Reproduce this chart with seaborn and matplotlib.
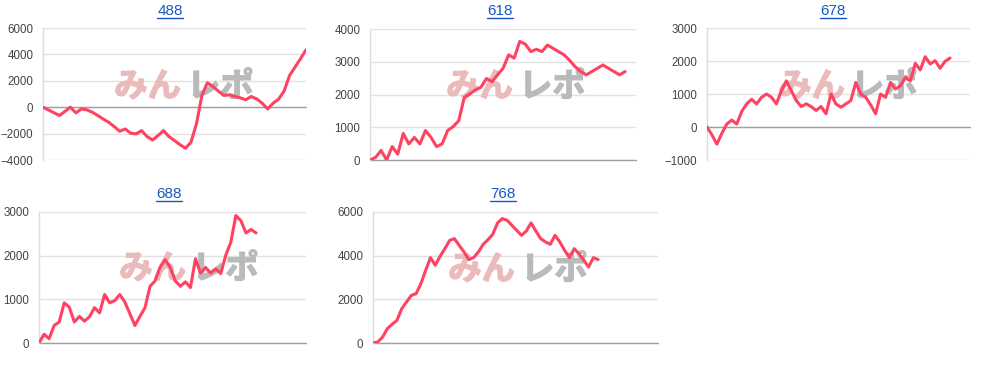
import numpy as np
import pandas as pd
import matplotlib
matplotlib.use("Agg")
import matplotlib.pyplot as plt
import matplotlib.patheffects as pe
import seaborn as sns
from matplotlib.lines import Line2D
from matplotlib.transforms import IdentityTransform

# ---------------- data ----------------
titles = ["488", "618", "678", "688", "768"]

s488 = [0, -210, -420, -630, -320, 0, -430, -130, -200, -380, -630, -900, -1140,
        -1470, -1820, -1650, -1970, -2020, -1770, -2230, -2480, -2150, -1770,
        -2230, -2530, -2840, -3110, -2660, -1270, 890, 1850, 1570, 1220, 890,
        940, 810, 710, 560, 810, 630, 300, -130, 300, 610, 1220, 2400, 3040,
        3670, 4350]

s618 = [0, 80, 290, 0, 410, 180, 810, 490, 690, 490, 900, 690, 410, 490, 900,
        1020, 1200, 1910, 2020, 2140, 2220, 2490, 2390, 2600, 2800, 3210, 3110,
        3620, 3540, 3310, 3380, 3310, 3510, 3410, 3310, 3210, 3040, 2850, 2700,
        2600, 2700, 2800, 2900, 2800, 2700, 2600, 2700]

s678 = [0, -240, -520, -190, 90, 210, 90, 470, 700, 840, 700, 900, 1000, 900,
        700, 1100, 1400, 1100, 800, 620, 700, 620, 500, 620, 400, 1000, 700,
        600, 700, 800, 1350, 1000, 900, 670, 400, 1000, 900, 1350, 1150, 1250,
        1500, 1400, 1930, 1730, 2130, 1910, 2010, 1780, 1990, 2090]

s688 = [0, 200, 100, 400, 480, 920, 820, 480, 610, 500, 600, 810, 690, 1110,
        920, 970, 1110, 940, 670, 400, 610, 810, 1300, 1420, 1740, 1910, 1730,
        1420, 1300, 1400, 1270, 1930, 1600, 1730, 1600, 1700, 1590, 2010, 2310,
        2920, 2800, 2520, 2600, 2520]

s768 = [0, 50, 270, 660, 860, 1040, 1570, 1880, 2180, 2260, 2720, 3330, 3910,
        3560, 3970, 4320, 4700, 4780, 4470, 4170, 3820, 3910, 4170, 4520, 4730,
        4980, 5500, 5700, 5620, 5390, 5160, 4930, 5130, 5500, 5130, 4780, 4630,
        4520, 4930, 4630, 4240, 3910, 4320, 4090, 3790, 3480, 3910, 3820]

series = [s488, s618, s678, s688, s768]
y_ranges = [(-4000, 6000, 2000), (0, 4000, 1000), (-1000, 3000, 1000),
            (0, 3000, 1000), (0, 6000, 2000)]

# ---------------- layout (pixels) ----------------
W, H = 999, 366
# left, right, top, bottom, fraction of width covered by data
boxes = [(43, 306, 28, 160, 1.0),
         (370, 636, 29, 160, 0.959),
         (707, 970, 28, 160, 0.924),
         (39, 306, 212, 343, 0.813),
         (373, 658, 212, 343, 0.79)]
title_pos = [(170, 11), (500, 11), (833, 11), (169, 194), (503, 194)]
wm_pos = [(184, 87), (516, 87), (848, 87), (189, 269), (518, 270)]

LINE = "#ff4262"
TITLE_C = "#1558c4"
WM_PINK = "#ebbaba"
WM_GRAY = "#bababa"

sns.set_theme(style="white")
plt.rcParams['font.family'] = ['Liberation Sans', 'Noto Sans CJK JP', 'DejaVu Sans']

fig = plt.figure(figsize=(W / 100, H / 100), dpi=100)

title_texts = []
for i, (vals, title, (ymin, ymax, step), box) in enumerate(zip(series, titles, y_ranges, boxes)):
    l, r, t, b, frac = box
    ax = fig.add_axes([l / W, 1 - b / H, (r - l) / W, (b - t) / H])
    ax.patch.set_alpha(0)
    df = pd.DataFrame({"x": np.arange(len(vals)), "y": vals})
    sns.lineplot(data=df, x="x", y="y", ax=ax, color=LINE, linewidth=2.2, zorder=3)
    ax.set_xlim(0, (len(vals) - 1) / frac)
    ax.set_ylim(ymin, ymax)
    ax.set_yticks(np.arange(ymin, ymax + 1, step))
    ax.set_xticks([])
    ax.set_xlabel("")
    ax.set_ylabel("")
    for s in ["top", "right", "bottom"]:
        ax.spines[s].set_visible(False)
    ax.spines["left"].set_color("#dcdcdc")
    ax.spines["left"].set_linewidth(1)
    ax.grid(axis="y", color="#e2e2e2", linewidth=1)
    ax.set_axisbelow(True)
    ax.axhline(0, color="#a0a0a0", linewidth=1, zorder=1, clip_on=False)
    ax.tick_params(axis="y", length=0, pad=7, labelsize=8.3, labelcolor="#444444")

    # watermark
    wx, wy = wm_pos[i]
    ax.text(wx - 3, H - wy, "みん", transform=IdentityTransform(), ha="right", va="center",
            fontsize=24, fontweight="bold", color=WM_PINK, family=["Noto Sans CJK JP"],
            zorder=1.5, path_effects=[pe.withStroke(linewidth=1, foreground=WM_PINK)])
    ax.text(wx + 3, H - wy, "レポ", transform=IdentityTransform(), ha="left", va="center",
            fontsize=24, fontweight="bold", color=WM_GRAY, family=["Noto Sans CJK JP"],
            zorder=1.5, path_effects=[pe.withStroke(linewidth=1, foreground=WM_GRAY)])

    tx, ty = title_pos[i]
    tt = fig.text(tx / W, 1 - ty / H, title, ha="center", va="center",
                  fontsize=11, color=TITLE_C)
    title_texts.append(tt)

fig.canvas.draw()
renderer = fig.canvas.get_renderer()
for tt in title_texts:
    bb = tt.get_window_extent(renderer)
    yline = (bb.y0 + 0.5) / H
    fig.add_artist(Line2D([bb.x0 / W, bb.x1 / W], [yline, yline],
                          transform=fig.transFigure, color=TITLE_C, linewidth=1))

fig.savefig("out.png", dpi=100)
